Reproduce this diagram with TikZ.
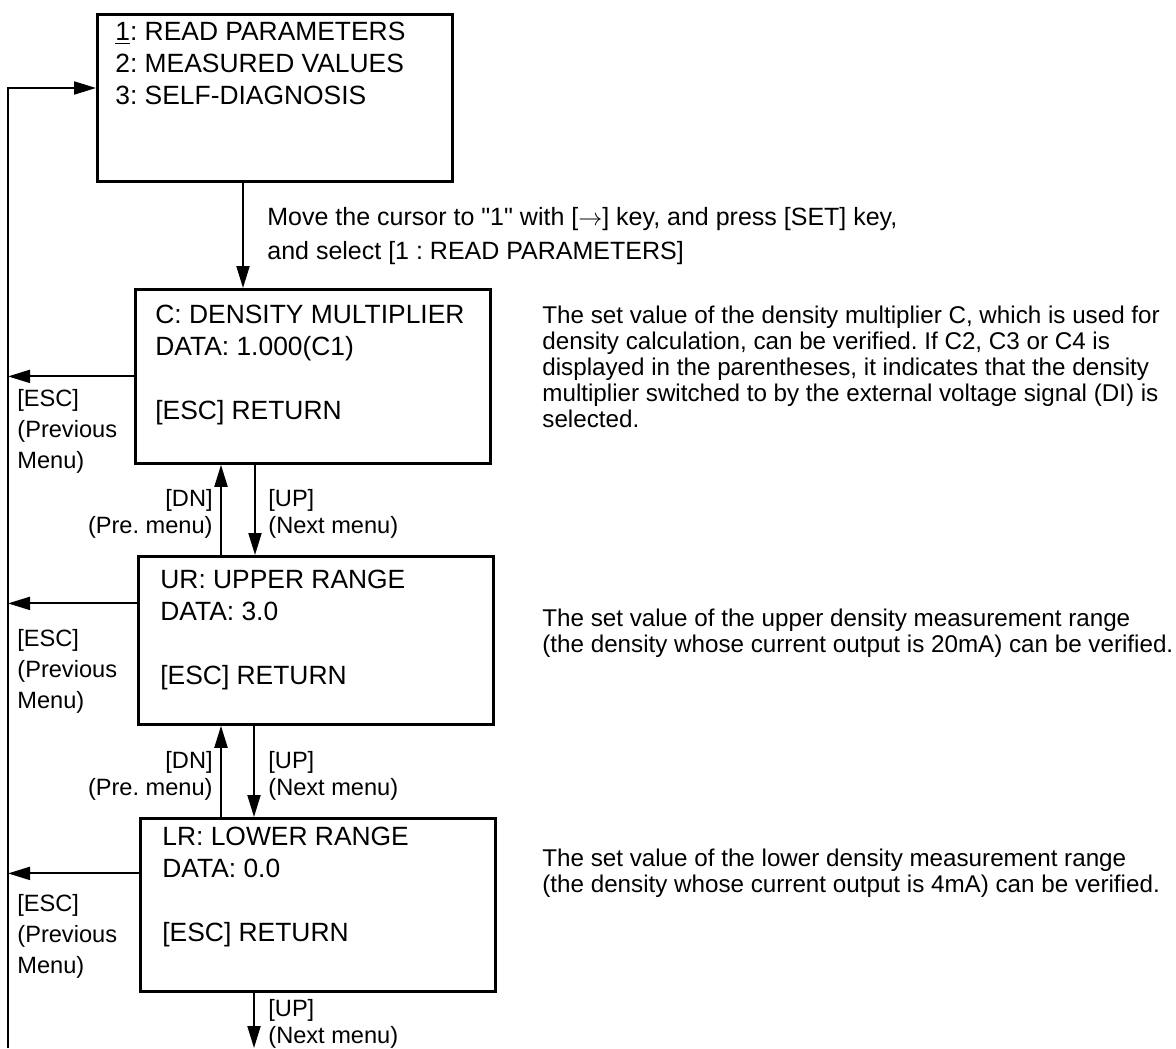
\documentclass[tikz,border=0pt]{standalone}
\usepackage{fontspec}
\setmainfont{Liberation Sans}
\frenchspacing
\usetikzlibrary{positioning,arrows.meta}

\begin{document}
\begin{tikzpicture}[x=0.5pt, y=-0.5pt,
  frame/.style={draw, line width=1.4pt, anchor=north west, inner sep=0pt,
                minimum width=177.5pt},
  scr/.style={anchor=base west, align=left, inner sep=0pt,
              font=\fontsize{13.2}{16}\selectfont},
  note/.style={anchor=base west, align=left, inner sep=0pt,
               font=\fontsize{12.1}{13}\selectfont},
  key/.style={anchor=base west, align=left, inner sep=0pt,
              font=\fontsize{11.8}{15.5}\selectfont},
  keyl/.style={key, font=\fontsize{11.8}{13.5}\selectfont},
  keyr/.style={keyl, anchor=base east, align=right},
  arr/.style={-{Triangle[length=11pt, width=6.5pt]}, line width=1pt},
]
  \useasboundingbox (0,0) rectangle (1176,1048);

  % menu screens (text nodes sit on the baseline of their last line)
  \node[frame, minimum height=83.5pt] (menu) at (96,13) {};
  \node[scr] (menutxt) at (115,105)
    {\underline{1}: READ PARAMETERS\\2: MEASURED VALUES\\3: SELF-DIAGNOSIS};

  \node[frame, minimum height=87pt] (cbox) at (134,288) {};
  \node[scr] (ctxt) at (155,419)
    {C: DENSITY MULTIPLIER\\DATA: 1.000(C1)\\[16pt][ESC] RETURN};

  \node[frame, minimum height=84pt] (ubox) at (137,555) {};
  \node[scr] (utxt) at (160,684)
    {UR: UPPER RANGE\\DATA: 3.0\\[16pt][ESC] RETURN};

  \node[frame, minimum height=86.5pt] (lbox) at (139,817) {};
  \node[scr] (ltxt) at (162,941)
    {LR: LOWER RANGE\\DATA: 0.0\\[16pt][ESC] RETURN};

  % explanations
  \node[anchor=base west, align=left, inner sep=0pt,
        font=\fontsize{12.5}{17}\selectfont] (move) at (267,259)
    {Move the cursor to \textquotedbl 1\textquotedbl{} with [$\rightarrow$] key, and press [SET] key,\\and select [1 : READ PARAMETERS]};
  \node[note] (cnote) at (542,427)
    {The set value of the density multiplier C, which is used for\\density calculation, can be verified. If C2, C3 or C4 is\\displayed in the parentheses, it indicates that the density\\multiplier switched to by the external voltage signal (DI) is\\selected.};
  \node[note] (unote) at (542,652)
    {The set value of the upper density measurement range\\(the density whose current output is 20mA) can be verified.};
  \node[note] (lnote) at (542,892)
    {The set value of the lower density measurement range\\(the density whose current output is 4mA) can be verified.};

  % key labels
  \node[key] (esc1) at (17,468) {[ESC]\\(Previous\\Menu)};
  \node[key] (esc2) at (17,708) {[ESC]\\(Previous\\Menu)};
  \node[key] (esc3) at (17,973) {[ESC]\\(Previous\\Menu)};
  \node[keyr] (dn1) at (213,533) {[DN]\\(Pre. menu)};
  \node[keyl] (up1) at (268,533) {[UP]\\(Next menu)};
  \node[keyr] (dn2) at (213,795) {[DN]\\(Pre. menu)};
  \node[keyl] (up2) at (268,795) {[UP]\\(Next menu)};
  \node[keyl] (up3) at (268,1043) {[UP]\\(Next menu)};

  % connectors
  \coordinate (rb) at (8,1048);
  \coordinate (rt) at (8,88);
  \draw[arr] (rb) -- (rt) -- (rt -| menu.west);

  \coordinate (go) at ([xshift=73.5pt]menu.south west);
  \draw[arr] (go) -- (go |- cbox.north);

  \coordinate (cdn) at ([xshift=43.5pt]cbox.south west);
  \coordinate (cup) at ([xshift=60.5pt]cbox.south west);
  \draw[arr] (cdn |- ubox.north) -- (cdn);
  \draw[arr] (cup) -- (cup |- ubox.north);

  \coordinate (udn) at ([xshift=42pt]ubox.south west);
  \coordinate (uup) at ([xshift=58.5pt]ubox.south west);
  \draw[arr] (udn |- lbox.north) -- (udn);
  \draw[arr] (uup) -- (uup |- lbox.north);

  \coordinate (lup) at ([xshift=57.5pt]lbox.south west);
  \draw[arr] (lup) -- (lup |- rb);

  \coordinate (cesc) at (cbox.west);
  \coordinate (uesc) at ([yshift=18.5pt]ubox.west);
  \coordinate (lesc) at ([yshift=15.75pt]lbox.west);
  \draw[arr] (cesc) -- (cesc -| rb);
  \draw[arr] (uesc) -- (uesc -| rb);
  \draw[arr] (lesc) -- (lesc -| rb);
\end{tikzpicture}
\end{document}
